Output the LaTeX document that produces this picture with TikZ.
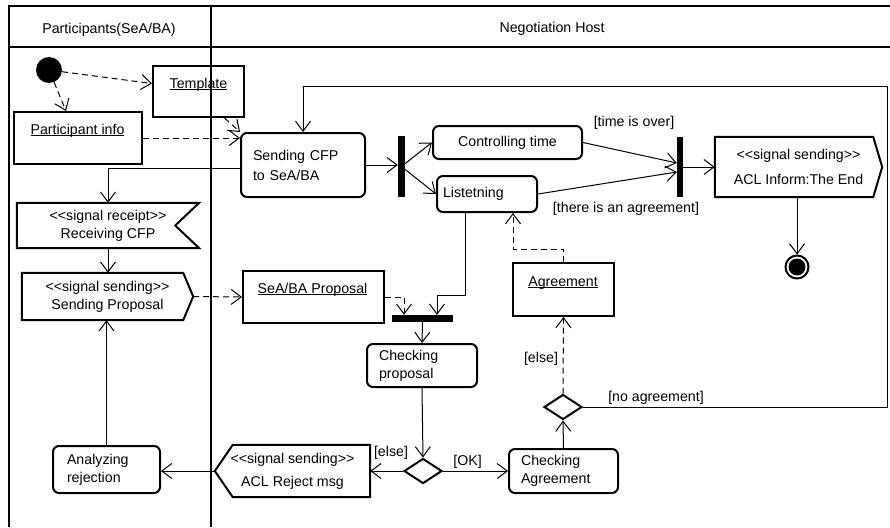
\documentclass[tikz,border=0pt]{standalone}
\usepackage{fontspec}
\setmainfont{Liberation Sans}
\usetikzlibrary{arrows.meta,shapes.geometric,calc}
\newcommand\stLL{<\kern0pt<}
\newcommand\stGG{>\kern0pt>}
\newcommand\objul[1]{\setbox0\hbox{#1}\rlap{\rule[-2pt]{\wd0}{1pt}}\box0}
\begin{document}
\begin{tikzpicture}[x=1pt,y=-1pt,
  font=\fontsize{14.2}{18}\selectfont,
  lane/.style={line width=2pt},
  act/.style={draw, line width=2pt, rounded corners=6pt, inner ysep=0pt},
  obj/.style={draw, line width=2pt, inner sep=0pt},
  syncbar/.style={fill=black, inner sep=0pt},
  dec/.style={draw, diamond, line width=2pt, inner sep=0pt, minimum width=38pt, minimum height=25pt},
  sig/.style={inner sep=0pt, align=center},
  sigline/.style={line width=2pt, line join=miter},
  flow/.style={line width=1pt, -{Straight Barb[length=10pt,width=15pt]}},
  objflow/.style={flow, dash pattern=on 6pt off 4pt},
  guard/.style={anchor=base, inner sep=0pt},
  otext/.style={anchor=base, inner sep=0pt}
]
\useasboundingbox (0,0) rectangle (890,527);

% initial and final nodes
\node[circle, fill=black, minimum size=26pt, inner sep=0pt] (init) at (49,70) {};
\node[circle, draw, line width=2pt, minimum size=23pt, inner sep=0pt] (fin) at (797,267) {};
\node[circle, fill=black, minimum size=17pt, inner sep=0pt] (fininner) at (fin) {};

% object nodes
\node[obj, minimum width=91pt, minimum height=51pt] (tpl) at (198.5,91.5) {};
\node[otext] (tplt) at (198.5,88) {\objul{Template}};
\node[obj, minimum width=128pt, minimum height=52pt] (pinfo) at (78,138) {};
\node[otext] (pinfot) at (77.5,134) {\objul{Participant info}};
\node[obj, minimum width=141pt, minimum height=52pt] (prop) at (313.5,297) {};
\node[otext] (propt) at (312.5,293) {\objul{SeA/BA Proposal}};
\node[obj, minimum width=101pt, minimum height=53pt] (agr) at (563.5,289.5) {};
\node[otext] (agrt) at (563,286) {\objul{Agreement}};

% activities
\node[act, text width=100pt, inner xsep=12pt, align=left, minimum height=64pt] (cfp) at (303,165) {Sending CFP\\[2pt]to SeA/BA};
\node[act, minimum width=149pt, minimum height=33pt, align=center] (ctrl) at (507.5,142.5) {Controlling time};
\node[act, text width=88pt, inner xsep=6pt, align=left, minimum height=36pt] (listen) at (487,194) {Listetning};
\node[act, text width=86pt, inner xsep=12pt, align=left, minimum height=43pt] (chkprop) at (422,365.5) {Checking\\proposal};
\node[act, text width=85pt, inner xsep=12pt, align=left, minimum height=44pt] (chkagr) at (563.5,471) {Checking\\Agreement};
\node[act, text width=79pt, inner xsep=14pt, align=left, minimum height=47pt] (analyzing) at (106.5,469.5) {Analyzing\\rejection};

% signal nodes
\node[sig, minimum width=182pt, minimum height=45pt] (recv) at (108,225.5) {\stLL signal receipt\stGG\\Receiving CFP};
\draw[sigline] (recv.north west) -- (recv.north east) -- ([xshift=-24pt]recv.east) -- (recv.south east) -- (recv.south west) -- cycle;
\node[sig, minimum width=171pt, minimum height=47pt] (sendp) at (107.5,296.5) {\stLL signal sending\stGG\\Sending Proposal};
\draw[sigline] (sendp.north west) -- ([xshift=-10pt]sendp.north east) -- (sendp.east) -- ([xshift=-10pt]sendp.south east) -- (sendp.south west) -- cycle;
\node[sig, minimum width=167pt, minimum height=60pt] (inform) at (798.5,167) {\stLL signal sending\stGG\\[7pt]ACL Inform:The End};
\draw[sigline] (inform.north west) -- ([xshift=-9pt]inform.north east) -- (inform.east) -- ([xshift=-9pt]inform.south east) -- (inform.south west) -- cycle;
\node[sig, minimum width=155pt, minimum height=52pt] (reject) at (292.5,471) {\stLL signal sending\stGG\\[5pt]ACL Reject msg};
\draw[sigline] (reject.west) -- ([xshift=18pt]reject.north west) -- (reject.north east) -- (reject.south east) -- ([xshift=18pt]reject.south west) -- cycle;

% bars and decisions
\node[syncbar, minimum width=7pt, minimum height=61pt] (bar1) at (401.5,166.5) {};
\node[syncbar, minimum width=6pt, minimum height=60pt] (bar2) at (680,167) {};
\node[syncbar, minimum width=61pt, minimum height=7pt] (bar3) at (422.5,318.5) {};
\node[dec] (d1) at (423,471) {};
\node[dec] (d2) at (563,407) {};

% swimlanes
\draw[lane] (9,527) -- (9,6) -- (890,6);
\draw[lane] (9,47) -- (890,47);
\draw[lane] (211,6) -- (211,527);
\node[anchor=base, inner sep=0pt] (hp) at (109,34) {Participants(SeA/BA)};
\node[anchor=base, inner sep=0pt] (hn) at (552,33) {Negotiation Host};

% object flows
\draw[objflow] (init) -- ([yshift=8pt]tpl.west);
\draw[objflow] (init) -- ([xshift=-12pt]pinfo.north);
\draw[objflow] ([xshift=26pt]tpl.south) -- (cfp.north west);
\draw[objflow] (pinfo.east) -- (pinfo.east -| cfp.west);
\draw[objflow] (sendp.east) -- (prop.west);
\draw[objflow] (prop.east) -| ([xshift=-18.5pt]bar3.north);
\draw[objflow] (agr.north) -- ++(0,-13) -| ([xshift=26pt]listen.south);
\draw[objflow] (d2.north) -- (agr.south);

% control flows
\coordinate (loopR) at (887,86);
\draw[flow] (d2.east) -| (loopR) -| (cfp.north);
\draw[flow] (cfp.east) -- (cfp.east -| bar1.west);
\draw[flow] ([yshift=3pt]bar1.east) -- (ctrl.west);
\draw[flow] ([yshift=-3pt]bar1.east) -- (listen.west);
\draw[flow] (ctrl.east) -- ([yshift=4pt]bar2.west);
\draw[flow] (listen.east) -- ([yshift=-5pt]bar2.west);
\draw[flow] (bar2.east) -- (inform.west);
\draw[flow] (inform.south -| fin) -- (fin.north);
\draw[flow] (chkagr.north) -- (d2.south);
\draw[flow] ([xshift=-22pt]listen.south) -- ++(0,82) -| ([xshift=14.5pt]bar3.north);
\draw[flow] (bar3.south) -- (chkprop.north);
\draw[flow] (chkprop.south) -- (d1.north);
\draw[flow] (d1.east) -- (chkagr.west);
\draw[flow] (d1.west) -- (reject.east);
\draw[flow] (reject.west) -- (reject.west -| analyzing.east);
\draw[flow] (analyzing.north) -- (analyzing.north |- sendp.south);
\draw[flow] ([yshift=-3pt]cfp.west) -| (recv.north);
\draw[flow] (recv.south) -- (recv.south |- sendp.north);

% guards
\node[guard] (g1) at (634,126) {[time is over]};
\node[guard] (g2) at (626,212) {[there is an agreement]};
\node[guard] (g3) at (656,401) {[no agreement]};
\node[guard] (g4) at (541,362) {[else]};
\node[guard] (g5) at (391,456) {[else]};
\node[guard] (g6) at (467.5,465) {[OK]};
\end{tikzpicture}
\end{document}
